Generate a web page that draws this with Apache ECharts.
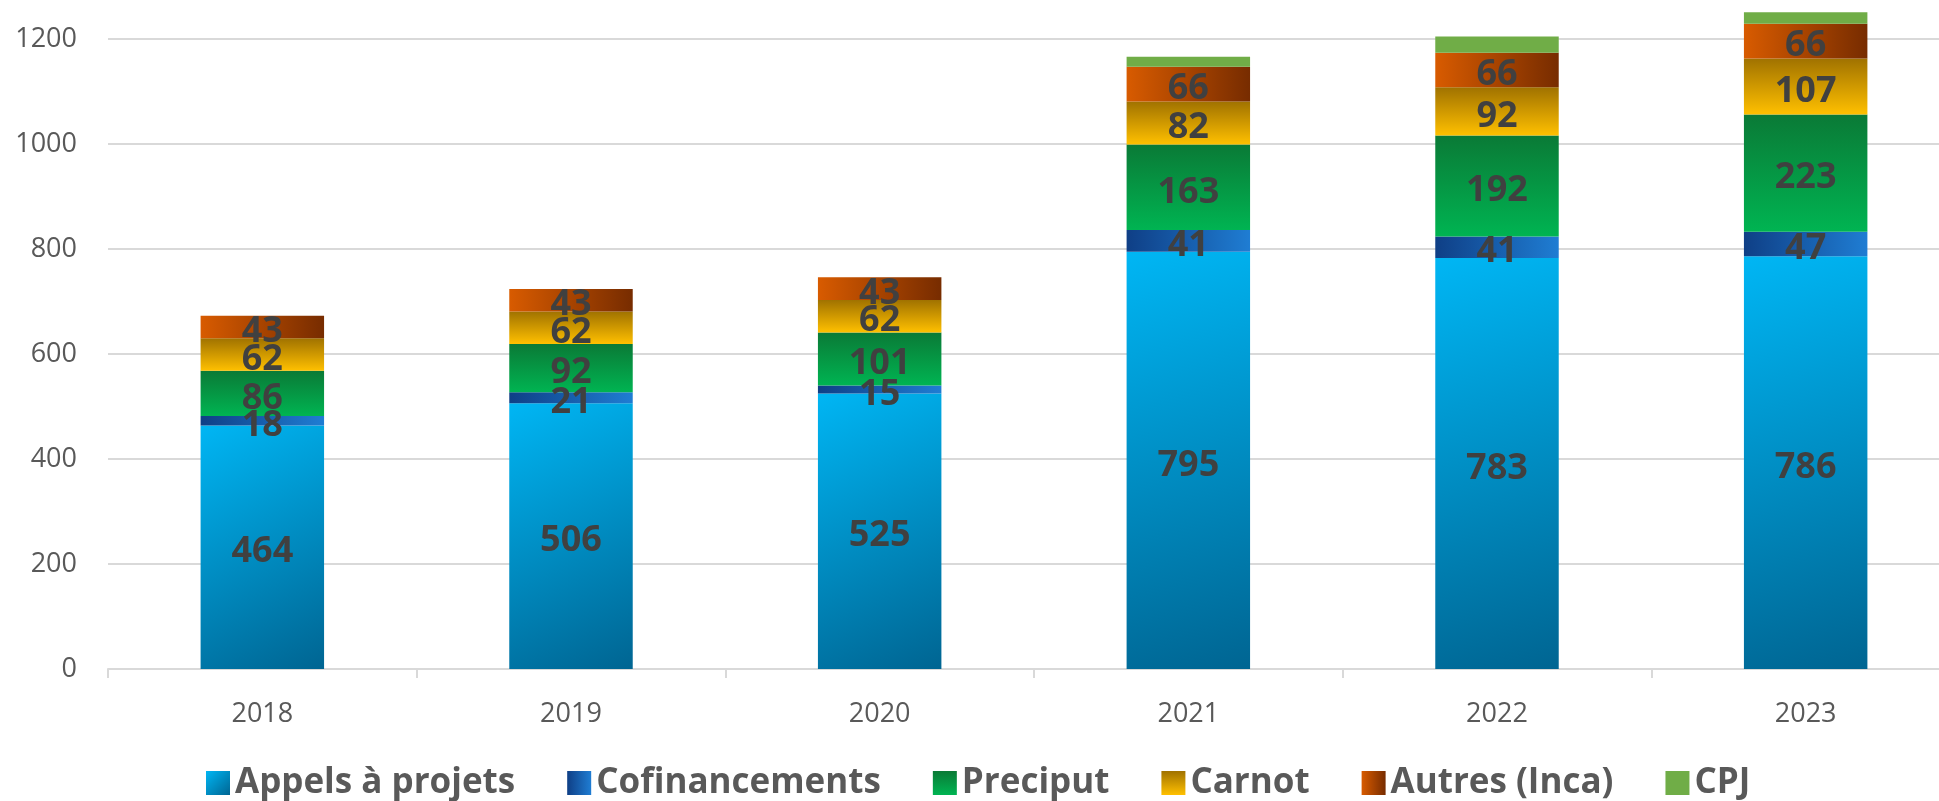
<!DOCTYPE html>
<html>
<head>
<meta charset="utf-8">
<script src="https://cdn.jsdelivr.net/npm/echarts@6/dist/echarts.min.js"></script>
<style>
html,body{margin:0;padding:0;background:#fff;}
#chart{width:1939px;height:801px;}
</style>
</head>
<body>
<div id="chart"></div>
<script>
var categories = ['2018', '2019', '2020', '2021', '2022', '2023'];
var appels = [464, 506, 525, 795, 783, 786];
var cofin = [18, 21, 15, 41, 41, 47];
var preciput = [86, 92, 101, 163, 192, 223];
var carnot = [62, 62, 62, 82, 92, 107];
var autres = [43, 43, 43, 66, 66, 66];
var cpj = [0, 0, 0, 19, 31, 22];
var yTicks = [0, 200, 400, 600, 800, 1000, 1200, 1400];

function lg(x, y, x2, y2, c1, c2) {
  return new echarts.graphic.LinearGradient(x, y, x2, y2, [{offset: 0, color: c1}, {offset: 1, color: c2}]);
}

var labelStyle = {
  show: true,
  position: 'inside',
  offset: [0, 5],
  color: '#404040',
  fontFamily: 'Open Sans',
  fontWeight: 'bold',
  fontSize: 36
};

function mk(name, data, color, showLabel) {
  return {
    name: name,
    type: 'bar',
    stack: 'total',
    barWidth: '40%',
    data: data,
    itemStyle: {color: color},
    label: showLabel ? labelStyle : {show: false},
    emphasis: {disabled: true}
  };
}

var chart = echarts.init(document.getElementById('chart'));
chart.setOption({
  animation: false,
  backgroundColor: '#ffffff',
  grid: {left: 108, right: -21, top: -66, bottom: 132, containLabel: false, outerBoundsMode: 'none'},
  legend: {
    left: 201,
    top: 758,
    itemWidth: 24,
    itemHeight: 24,
    itemGap: 52,
    icon: 'rect',
    textStyle: {color: '#595959', fontFamily: 'Open Sans', fontWeight: 'bold', fontSize: 35, lineHeight: 40}
  },
  xAxis: {
    type: 'category',
    data: categories,
    axisLine: {lineStyle: {color: '#D9D9D9', width: 2}},
    axisTick: {show: true, length: 9, lineStyle: {color: '#D9D9D9', width: 2}},
    axisLabel: {color: '#595959', fontFamily: 'Open Sans', fontSize: 27, margin: 32}
  },
  yAxis: {
    type: 'value',
    min: yTicks[0],
    max: yTicks[yTicks.length - 1],
    interval: 200,
    axisLine: {show: false},
    axisTick: {show: false},
    splitLine: {lineStyle: {color: '#D9D9D9', width: 2}},
    axisLabel: {color: '#595959', fontFamily: 'Open Sans', fontSize: 27, margin: 31,
      formatter: function (v) { return String(v); }}
  },
  series: [
    mk('Appels à projets', appels, lg(0, 0, 1, 1, '#00B6F4', '#006592'), true),
    mk('Cofinancements', cofin, lg(0, 0, 1, 0, '#0F3F86', '#1F7DD3'), true),
    mk('Preciput', preciput, lg(0, 0, 0, 1, '#0A7A36', '#00B452'), true),
    mk('Carnot', carnot, lg(0, 0, 0, 1, '#A07200', '#FFC000'), true),
    mk('Autres (Inca)', autres, lg(0, 0, 1, 0, '#D85B00', '#772C00'), true),
    mk('CPJ', cpj, '#70AD47', false)
  ]
});
</script>
</body>
</html>
